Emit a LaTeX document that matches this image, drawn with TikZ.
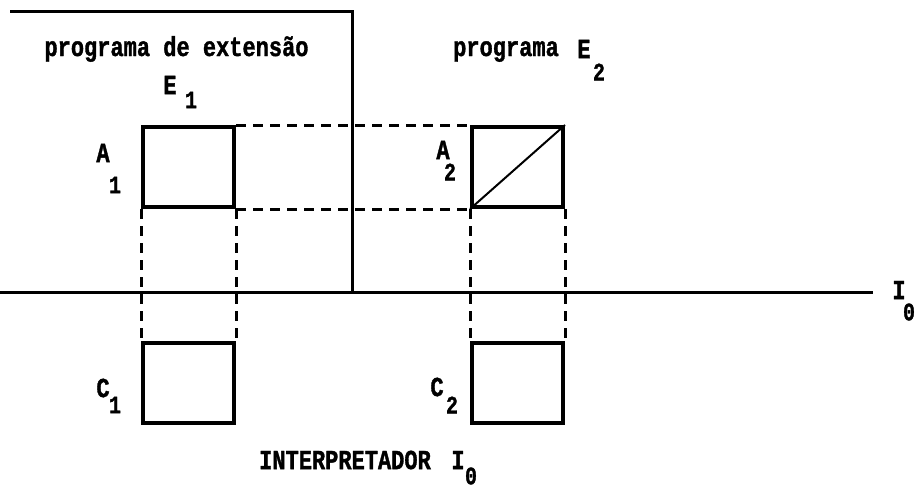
\documentclass[tikz,border=0pt]{standalone}
\usepackage{fontspec}
\setmainfont{Liberation Mono}[BoldFeatures={FakeBold=1.5}]
\newcommand{\tall}[1]{\scalebox{1}[1.25]{#1}}
\begin{document}
\begin{tikzpicture}[x=1pt,y=-1pt,
  box/.style={draw,line width=4pt,minimum width=91pt,minimum height=80pt,inner sep=0pt},
  lbl/.style={font=\bfseries\fontsize{22}{22}\selectfont,inner sep=0pt},
  sublbl/.style={font=\bfseries\fontsize{20}{20}\selectfont,inner sep=0pt},
  guide/.style={line width=3pt,dash pattern=on 10pt off 7pt},
  rulel/.style={line width=3pt}]
\useasboundingbox (0,0) rectangle (918,499);
% frame lines
\coordinate (tl) at (10,11);
\coordinate (tr) at (352,11);
\coordinate (vb) at (352,292);
\coordinate (hl) at (0,292);
\coordinate (hr) at (873,292);
\draw[rulel] (tl) -- (tr) -- (vb);
\draw[rulel] (hl) -- (hr);
% boxes
\node[box] (A1) at (188.5,167) {};
\node[box] (A2) at (517.5,167) {};
\node[box] (C1) at (188.5,382.5) {};
\node[box] (C2) at (517.5,382.5) {};
\draw[line width=2pt] (A2.south west) -- (A2.north east);
% dashed guides
\draw[guide] (A1.north east) -- (A2.north west);
\draw[guide] (A1.south east) -- (A2.south west);
\draw[guide] (A1.south west) -- (C1.north west);
\draw[guide] (A1.south east) -- (C1.north east);
\draw[guide] (A2.south west) -- (C2.north west);
\draw[guide] (A2.south east) -- (C2.north east);
% labels
\node[lbl,anchor=base] (t1) at (176.5,56) {\tall{programa de extensão}};
\node[lbl] (e1) at (170,85) {\tall{E}};
\node[sublbl] (e1s) at (191,100) {\tall{1}};
\node[lbl,anchor=base west] (t2) at (453,56) {\tall{programa}};
\node[lbl] (e2) at (584,49) {\tall{E}};
\node[sublbl] (e2s) at (599,72) {\tall{2}};
\node[lbl] (a1) at (103,153) {\tall{A}};
\node[sublbl] (a1s) at (115,185) {\tall{1}};
\node[lbl] (a2) at (443,150) {\tall{A}};
\node[sublbl] (a2s) at (450,172) {\tall{2}};
\node[lbl] (c1) at (103,388) {\tall{C}};
\node[sublbl] (c1s) at (115,405) {\tall{1}};
\node[lbl] (c2) at (437,387) {\tall{C}};
\node[sublbl] (c2s) at (452,405) {\tall{2}};
\node[lbl] (it) at (345,460) {\tall{INTERPRETADOR}};
\node[lbl] (ii) at (458,460) {\tall{I}};
\node[sublbl] (iis) at (471,476) {\tall{0}};
\node[lbl] (ri) at (899,290) {\tall{I}};
\node[sublbl] (ris) at (909,312) {\tall{0}};
\end{tikzpicture}
\end{document}
